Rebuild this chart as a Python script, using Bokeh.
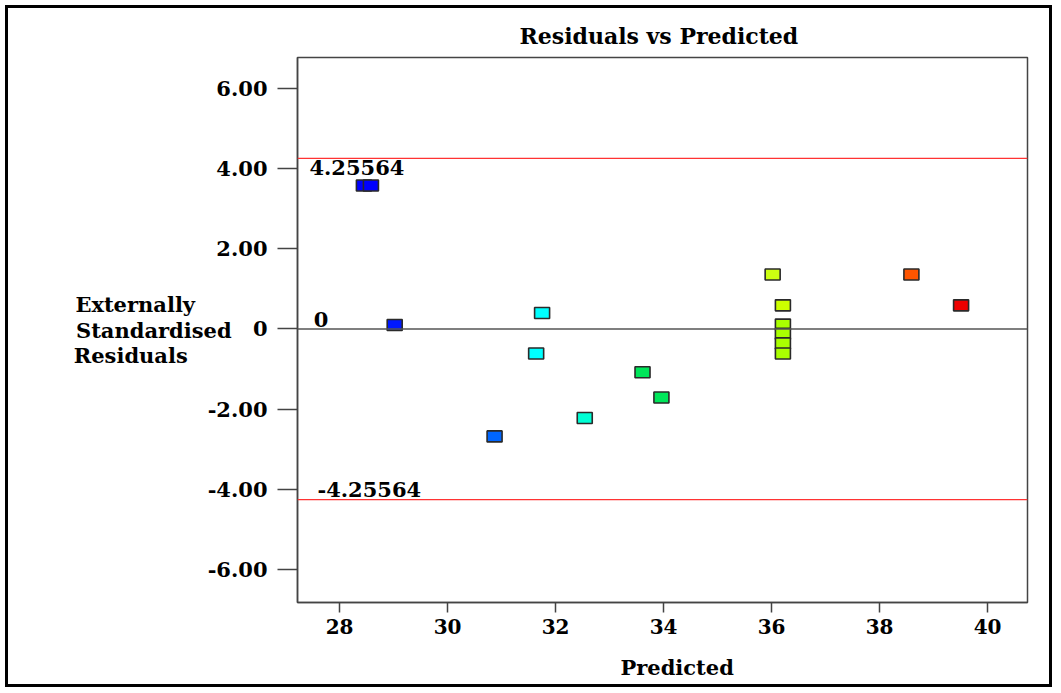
from bokeh.plotting import figure
from bokeh.models import Span, Label, FixedTicker, ColumnDataSource
from bokeh.embed import file_html
from bokeh.resources import INLINE

# ---- data ----
predicted = [28.45, 28.58, 29.02, 31.75, 31.64, 30.87, 32.54, 33.61, 33.96,
             36.02, 36.21, 36.21, 36.21, 36.21, 36.21, 38.59, 39.51]
residuals = [3.58, 3.58, 0.10, 0.40, -0.61, -2.68, -2.22, -1.08, -1.71,
             1.36, 0.59, 0.11, -0.12, -0.36, -0.61, 1.36, 0.59]
point_colors = ["#0000FF", "#0000FF", "#0018FF", "#00FFFF", "#00FFFF", "#0066FF",
                "#00FFD5", "#00E65A", "#00E65A", "#CCFF11", "#CCFF00", "#AAFF00",
                "#AAFF00", "#AAFF00", "#AAFF00", "#FF5500", "#EE0000"]
limit = 4.25564
x_ticks = [28, 30, 32, 34, 36, 38, 40]
y_ticks = [-6, -4, -2, 0, 2, 4, 6]
y_tick_labels = ["-6.00", "-4.00", "-2.00", "0", "2.00", "4.00", "6.00"]
title_text = "Residuals vs Predicted"
x_title = "Predicted"
y_title_lines = ["Externally", "Standardised", "Residuals"]

FONT = "DejaVu Serif"
AX = "#444444"
FS = "20px"
FS_T = "21px"
NB = "\u00a0"

p = figure(width=1047, height=682, output_backend="svg", toolbar_location=None,
           x_range=(27.22, 40.74), y_range=(-6.825, 6.775),
           min_border_left=289, min_border_right=28, min_border_top=49,
           min_border_bottom=88)
p.styles = {"border": "3px solid black"}
p.margin = (5, 0, 0, 5)
p.background_fill_color = "white"
p.border_fill_color = "white"
p.grid.visible = False
p.outline_line_color = AX
p.outline_line_width = 1.5

p.title.text = title_text
p.title.align = "left"
p.title.offset = 222
p.title.text_font = FONT
p.title.text_font_style = "bold"
p.title.text_font_size = "22px"
p.title.text_color = "black"
p.title.standoff = 18

for ax in (p.xaxis[0], p.yaxis[0]):
    ax.axis_line_color = AX
    ax.axis_line_width = 1.5
    ax.major_tick_line_color = AX
    ax.major_tick_line_width = 1.5
    ax.minor_tick_line_color = None
    ax.major_tick_in = 0
    ax.major_label_text_font = FONT
    ax.major_label_text_font_style = "bold"
    ax.major_label_text_font_size = FS
    ax.major_label_text_color = "black"
    ax.axis_label_text_font = FONT
    ax.axis_label_text_font_style = "bold"
    ax.axis_label_text_font_size = FS_T
    ax.axis_label_text_color = "black"

p.xaxis.ticker = FixedTicker(ticks=x_ticks)
p.xaxis.major_tick_out = 10
p.xaxis.major_label_standoff = 6
# leading padding moves the centred label right, as in the original
p.xaxis.axis_label = NB * 4 + x_title
p.xaxis.axis_label_standoff = 18

p.yaxis.ticker = FixedTicker(ticks=y_ticks)
p.yaxis.major_label_overrides = {t: s for t, s in zip(y_ticks, y_tick_labels)}
p.yaxis.major_label_text_font_size = "21px"
p.yaxis.major_tick_out = 20
p.yaxis.major_label_standoff = 10
# right-aligned multi-line label padded so its lines start at the same x
pads = [5, 0, 6]
p.yaxis.axis_label = "\n".join(t + NB * n for t, n in zip(y_title_lines, pads))
yprops = p.yaxis[0].properties()
if "axis_label_orientation" in yprops:
    p.yaxis.axis_label_orientation = "horizontal"
if "axis_label_text_line_height" in yprops:
    p.yaxis.axis_label_text_line_height = 1.03
p.yaxis.axis_label_standoff = -27

# reference lines
p.add_layout(Span(location=0, dimension="width", line_color="#555555", line_width=1.5))
p.add_layout(Span(location=limit, dimension="width", line_color="#FF3333", line_width=1.2))
p.add_layout(Span(location=-limit, dimension="width", line_color="#FF3333", line_width=1.2))

src = ColumnDataSource(dict(x=predicted, y=residuals, c=point_colors))
p.rect(x="x", y="y", width=15, height=11, width_units="screen", height_units="screen",
       fill_color="c", line_color="#2a2a2a", line_width=1.6, source=src)

lab = dict(text_font=FONT, text_font_style="bold", text_font_size=FS_T,
           text_color="black", text_baseline="middle")
p.add_layout(Label(x=27.44, y=limit, y_offset=-9, text=f"{limit:.5f}", **lab))
p.add_layout(Label(x=27.59, y=-limit, y_offset=10, text=f"{-limit:.5f}", **lab))
p.add_layout(Label(x=27.52, y=0, y_offset=9, text="0", **lab))

open("out.html", "w").write(file_html(p, INLINE))
